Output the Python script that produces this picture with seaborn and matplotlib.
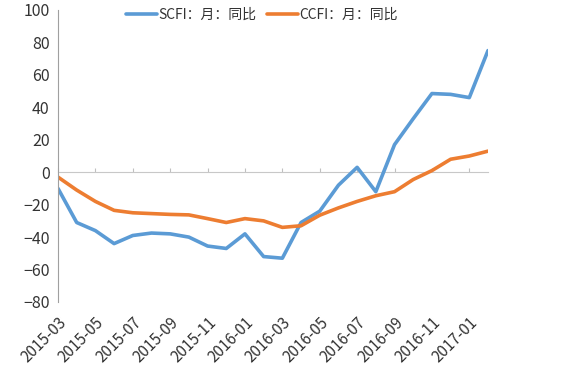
"""
SCFI / CCFI month-on-month chart, 2015-03 to 2017-02
"""

import pandas as pd
import numpy as np
import matplotlib
matplotlib.use("Agg")
import matplotlib.pyplot as plt
import seaborn as sb


# Data
months = pd.date_range("2015-03", "2017-02", freq="MS").strftime("%Y-%m").tolist()

scfi = [-10, -31, -36, -44, -39, -37.5, -38, -40, -45.5, -47, -38, -52,
        -53, -31, -24, -8, 3, -12, 17, 33, 48.5, 48, 46, 75]
ccfi = [-3, -11, -18, -23.5, -25, -25.5, -26, -26.3, -28.6, -31, -28.6, -30,
        -34, -33, -26.5, -22, -18, -14.5, -12, -4.5, 1, 8, 10, 13]

series_names = ["SCFI：月：同比", "CCFI：月：同比"]
colors = ["#5B9BD5", "#ED7D31"]

df = pd.DataFrame({
    "idx": list(range(len(months))) * 2,
    "value": scfi + ccfi,
    "series": [series_names[0]] * len(months) + [series_names[1]] * len(months),
})


# Plot
sb.set_style("white")
plt.rcParams["font.family"] = ["Noto Sans CJK SC", "DejaVu Sans"]
plt.rcParams["axes.unicode_minus"] = True

fig = plt.figure(figsize=(5.65, 3.72), dpi=100)
ax = fig.add_axes([58 / 565, 1 - 302 / 372, 430 / 565, 292 / 372])

sb.lineplot(data=df, x="idx", y="value", hue="series",
            palette=colors, linewidth=2.6, ax=ax)

ax.set_xlim(0, len(months) - 1)
ax.set_ylim(-80, 100)
ax.set_yticks(np.arange(-80, 101, 20))
ax.tick_params(axis="y", labelsize=11.5, colors="#333333", length=3,
               color="#A0A0A0", pad=3)
ax.set_xlabel("")
ax.set_ylabel("")

tick_pos = list(range(0, len(months), 2))
ax.set_xticks(tick_pos)
ax.set_xticklabels([months[i] for i in tick_pos], rotation=45,
                   ha="right", va="top", rotation_mode="anchor")
ax.tick_params(axis="x", labelsize=11, colors="#333333", length=0, pad=9)

for side in ["top", "right", "bottom"]:
    ax.spines[side].set_visible(False)
ax.spines["left"].set_color("#A0A0A0")
ax.spines["left"].set_linewidth(0.8)

# zero line with its own small tick marks
zero_ax = ax.secondary_xaxis(80 / 180)
zero_ax.set_xticks(tick_pos)
zero_ax.set_xticklabels([])
zero_ax.tick_params(direction="in", length=3, color="#C0C0C0")
zero_ax.spines["bottom"].set_color("#C8C8C8")
zero_ax.spines["bottom"].set_linewidth(0.8)

leg = ax.legend(loc="center", bbox_to_anchor=(262 / 565, 1 - 15 / 372),
                bbox_transform=fig.transFigure, ncol=2, frameon=False,
                fontsize=10, handlelength=2.2, columnspacing=0.8,
                handletextpad=0.1)
for t in leg.get_texts():
    t.set_color("#333333")

fig.savefig("out.png", dpi=100)
